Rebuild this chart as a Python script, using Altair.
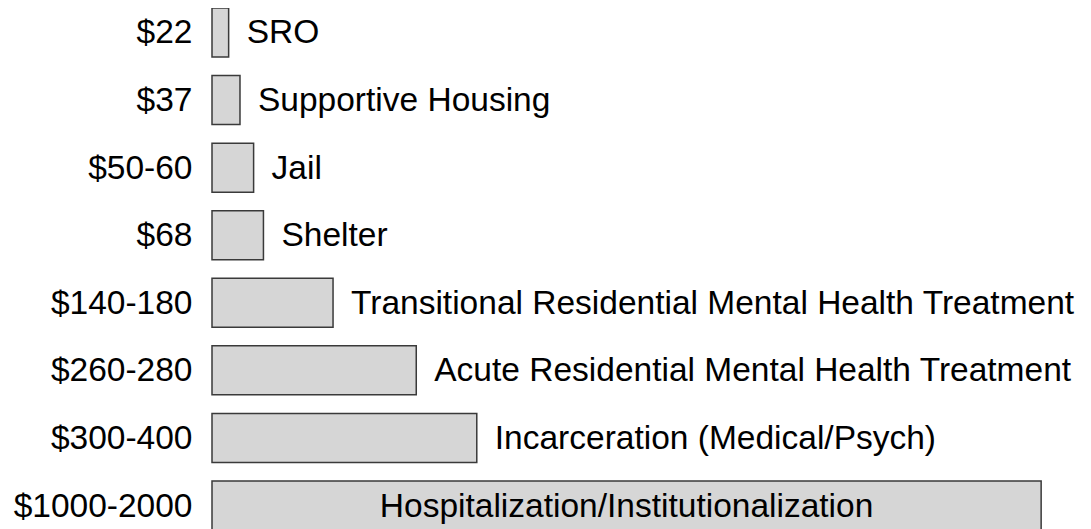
import altair as alt
import pandas as pd

costs = ["$22", "$37", "$50-60", "$68", "$140-180", "$260-280", "$300-400", "$1000-2000"]
categories = ["SRO", "Supportive Housing", "Jail", "Shelter",
              "Transitional Residential Mental Health Treatment",
              "Acute Residential Mental Health Treatment",
              "Incarceration (Medical/Psych)",
              "Hospitalization/Institutionalization"]
values = [22, 37, 55, 68, 160, 270, 350, 1096]

df = pd.DataFrame({"cost": costs, "category": categories, "value": values})

FONT = "Liberation Sans"
FS = 33.5

y = alt.Y("cost:N", sort=None,
          scale=alt.Scale(paddingInner=0.275, paddingOuter=0),
          axis=alt.Axis(title=None, ticks=False, domain=False, grid=False,
                        labelFontSize=FS, labelFont=FONT, labelColor="black",
                        labelPadding=20, labelLimit=400, labelOffset=1))
xs = alt.Scale(domain=[0, 1150])

base = alt.Chart(df)

bars = base.mark_bar(fill="#d6d6d6", stroke="#3a3a3a", strokeWidth=1.5).encode(
    x=alt.X("value:Q", scale=xs, axis=None),
    y=y,
)

outside = base.transform_filter("datum.value < 1000").mark_text(
    align="left", baseline="middle", dx=18, dy=1, font=FONT, fontSize=FS, color="black"
).encode(
    x=alt.X("value:Q", scale=xs, axis=None),
    y=y,
    text="category:N",
)

inside = base.transform_filter("datum.value >= 1000").transform_calculate(
    mid="datum.value / 2"
).mark_text(
    align="center", baseline="middle", dy=1, font=FONT, fontSize=FS, color="black"
).encode(
    x=alt.X("mid:Q", scale=xs, axis=None),
    y=y,
    text="category:N",
)

chart = alt.layer(bars, outside, inside).properties(
    width=870, height=522,
    autosize=alt.AutoSizeParams(type="none"),
    padding={"left": 204, "top": 0, "right": 0, "bottom": 0},
).configure_view(stroke=None)

chart.save("out.html", embed_options={"renderer": "svg", "actions": False})
